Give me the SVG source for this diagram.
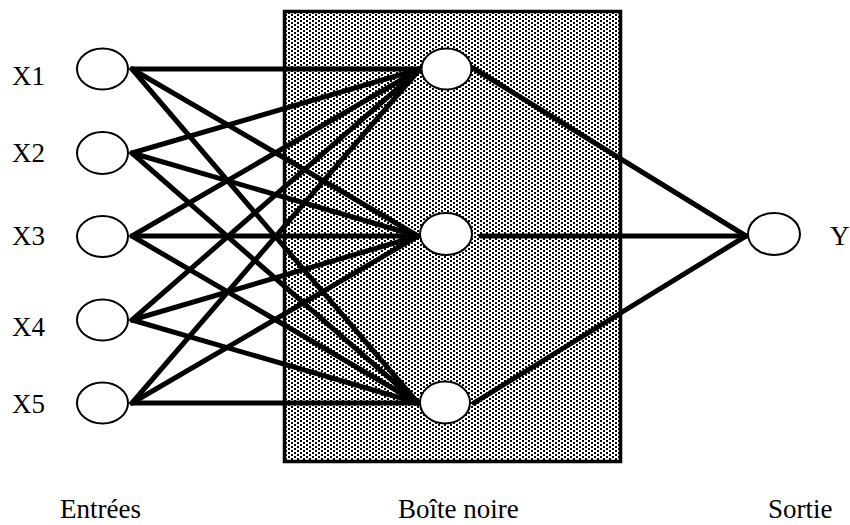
<svg xmlns="http://www.w3.org/2000/svg" width="850" height="525" viewBox="0 0 850 525">
<style>
.lbl{font-family:"Liberation Serif","DejaVu Serif",serif;font-size:27px;fill:#000}
.node{fill:#fff;stroke:#000;stroke-width:2}
.edge{stroke:#000;stroke-width:5;stroke-linecap:round;fill:none}
</style>
<defs>
<pattern id="dots" width="6" height="4" patternUnits="userSpaceOnUse">
<rect width="6" height="4" fill="#fff"/>
<rect x="0" y="0" width="2" height="2" fill="#000"/>
<rect x="3" y="2" width="2" height="2" fill="#000"/>
</pattern>
</defs>
<rect width="850" height="525" fill="#fff"/>
<g id="boite-noire">
<rect x="284.5" y="11.5" width="336" height="450" fill="url(#dots)" stroke="#000" stroke-width="3.5"/>
</g>
<g id="connectors">
<line class="edge" x1="132" y1="69" x2="420" y2="69"/>
<line class="edge" x1="132" y1="69" x2="418" y2="236"/>
<line class="edge" x1="132" y1="69" x2="418" y2="403"/>
<line class="edge" x1="132" y1="153" x2="420" y2="69"/>
<line class="edge" x1="132" y1="153" x2="418" y2="236"/>
<line class="edge" x1="132" y1="153" x2="418" y2="403"/>
<line class="edge" x1="132" y1="236" x2="420" y2="69"/>
<line class="edge" x1="132" y1="236" x2="418" y2="236"/>
<line class="edge" x1="132" y1="236" x2="418" y2="403"/>
<line class="edge" x1="132" y1="320" x2="420" y2="69"/>
<line class="edge" x1="132" y1="320" x2="418" y2="236"/>
<line class="edge" x1="132" y1="320" x2="418" y2="403"/>
<line class="edge" x1="132" y1="403" x2="420" y2="69"/>
<line class="edge" x1="132" y1="403" x2="418" y2="236"/>
<line class="edge" x1="132" y1="403" x2="418" y2="403"/>
<line class="edge" x1="473" y1="68" x2="746" y2="236"/>
<line class="edge" x1="481" y1="236" x2="746" y2="236"/>
<line class="edge" x1="474" y1="403" x2="746" y2="236"/>
</g>
<g id="x1"><ellipse class="node" cx="102.5" cy="69" rx="25.5" ry="20.5"/><text class="lbl" x="12" y="85">X1</text></g>
<g id="x2"><ellipse class="node" cx="102.5" cy="153" rx="25.5" ry="21"/><text class="lbl" x="12" y="162">X2</text></g>
<g id="x3"><ellipse class="node" cx="102.5" cy="236.5" rx="25.5" ry="20.5"/><text class="lbl" x="12" y="245">X3</text></g>
<g id="x4"><ellipse class="node" cx="102.5" cy="320" rx="25.5" ry="20.5"/><text class="lbl" x="12" y="336">X4</text></g>
<g id="x5"><ellipse class="node" cx="102.5" cy="403" rx="25.5" ry="20.5"/><text class="lbl" x="12" y="413">X5</text></g>
<g id="h1"><ellipse class="node" cx="446.5" cy="69" rx="25" ry="20.5"/></g>
<g id="h2"><ellipse class="node" cx="446" cy="234" rx="26" ry="21"/></g>
<g id="h3"><ellipse class="node" cx="445" cy="402.5" rx="25" ry="21"/></g>
<g id="y"><ellipse class="node" cx="774" cy="234" rx="26" ry="21"/><text class="lbl" x="830" y="245">Y</text></g>
<g id="legend">
<text class="lbl" x="60" y="518">Entrées</text>
<text class="lbl" x="398" y="518">Boîte noire</text>
<text class="lbl" x="768" y="518">Sortie</text>
</g>
</svg>
